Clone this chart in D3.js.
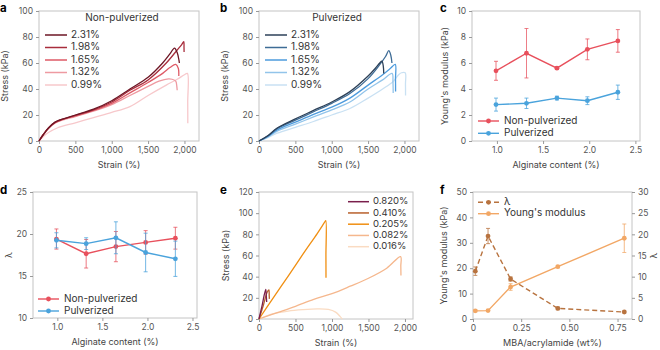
<!DOCTYPE html>
<html>
<head>
<meta charset="utf-8">
<script src="https://cdn.jsdelivr.net/npm/d3@7"></script>
<style>
  body { margin: 0; background: #fff; }
  text { font-family: Inter, "Noto Sans", sans-serif; }
</style>
</head>
<body>
<svg id="fig" width="660" height="350"></svg>
<script>
// ---- data ----
const alginateLabels = ["2.31%", "1.98%", "1.65%", "1.32%", "0.99%"];
const alginateContent = [0.99, 1.32, 1.65, 1.98, 2.31];

// a: non-pulverized stress-strain, [strain %, stress kPa]
const nonPulvCurves = [
  [[0,0],[60,5],[130,10],[220,14.5],[300,16.5],[500,20],[750,24.5],[1000,31],[1250,40],[1500,49],[1700,60],[1800,67],[1863,71.5],[1900,68],[1925,62],[1930,60]],
  [[0,0],[60,5],[130,10],[220,14.3],[300,16.3],[500,19.7],[750,24],[1000,30],[1250,39],[1500,47],[1750,60],[1900,70],[1960,74],[1990,76.5],[1994,72],[1995,68.5]],
  [[0,0],[60,5],[130,9.8],[220,14],[300,16],[500,19.3],[750,23.5],[1000,29],[1250,37],[1500,45],[1700,52],[1800,56.5],[1880,59],[1915,56],[1922,50]],
  [[0,0],[60,4.8],[130,9.5],[220,13.6],[300,15.6],[500,18.8],[750,23],[1000,28],[1250,35],[1500,42],[1650,46],[1780,47.8],[1830,47.5],[1880,46],[1895,42],[1900,39]],
  [[0,0],[60,3.5],[130,6.5],[250,10],[500,14],[750,18],[1000,22],[1250,26.5],[1500,35],[1750,43],[1900,47.5],[2000,51],[2040,52],[2045,30],[2046,13.6]]
];

// b: pulverized stress-strain
const pulvCurves = [
  [[0,0],[120,4],[250,10],[500,17],[750,23.5],[1000,30],[1250,38],[1500,50],[1600,56],[1660,60],[1690,61.5],[1708,58],[1715,52]],
  [[0,0],[120,3.8],[250,9.5],[500,16],[750,22.5],[1000,29],[1250,36.5],[1500,48],[1650,58],[1740,65],[1785,69.5],[1812,66],[1828,60]],
  [[0,0],[120,3.5],[250,8.5],[500,14.5],[750,20.5],[1000,26],[1250,33],[1500,43],[1700,51],[1800,55.5],[1873,59],[1877,48],[1878,38]],
  [[0,0],[120,3],[250,7.5],[500,13],[750,18.5],[1000,24],[1250,30],[1500,40],[1700,47],[1830,52],[1842,45],[1845,37]],
  [[0,0],[120,2.5],[250,6],[500,10.5],[750,15],[1000,20],[1250,25],[1500,33],[1700,40],[1850,46],[1920,51],[1960,52.5],[2010,52.5],[2014,44],[2015,35]]
];

// c: Young's modulus (kPa) vs alginate content
const cNonPulv = [5.4, 6.75, 5.6, 7.05, 7.7];
const cNonPulvErr = [0.73, 1.9, 0.1, 0.8, 0.87];
const cPulv = [2.8, 2.9, 3.3, 3.1, 3.75];
const cPulvErr = [0.5, 0.4, 0.15, 0.3, 0.55];

// d: lambda vs alginate content
const dNonPulv = [19.4, 17.65, 18.5, 19.0, 19.5];
const dNonPulvErr = [1.2, 1.7, 1.8, 1.4, 1.3];
const dPulv = [19.25, 18.85, 19.55, 17.8, 17.05];
const dPulvErr = [0.9, 0.7, 1.9, 2.3, 2.1];

// e: stress-strain for MBA content
const mbaLabels = ["0.820%", "0.410%", "0.205%", "0.082%", "0.016%"];
const mbaCurves = [
  [[0,0],[40,12],[92,28],[100,22],[105,16]],
  [[0,0],[60,13],[110,25],[135,27.5],[140,22],[142,19]],
  [[0,0],[200,20.5],[400,40.5],[600,61],[800,81],[900,91.5],[915,93],[917,60],[918,39]],
  [[0,0],[250,6],[500,12],[750,18.5],[1000,24],[1250,31],[1500,38.5],[1750,48],[1940,59],[1943,50],[1945,41]],
  [[0,0],[200,5],[400,7.5],[600,8.8],[800,9.5],[950,9],[1050,6.5],[1110,2.5],[1140,0]]
];

// f: lambda and Young's modulus vs MBA/acrylamide
const fMba = [0.012, 0.078, 0.195, 0.44, 0.785];
const fLambda = [11.3, 19.6, 9.45, 2.5, 1.65];
const fLambdaErr = [1.0, 1.8, 0.5, 0.3, 0.2];
const fModulus = [3.2, 3.3, 12.6, 20.6, 31.8];
const fModulusErr = [0.4, 0.3, 1.3, 0.4, 5.6];

const redShades = ["#6d1625", "#a82d3c", "#de5a66", "#ee9aa1", "#f7c8cb"];
const blueShades = ["#2c4058", "#3e6c96", "#4d9bdd", "#92c4ea", "#c9e1f3"];
const orangeShades = ["#7a1f4c", "#b8602c", "#f08f12", "#f5b78d", "#fadbc2"];
const red = "#e8505c", blue = "#4aa3dc";
const brown = "#b8733f", lightOrange = "#f2a765";

const svg = d3.select("#fig");

function makePanel(box, xDom, yDom, xTicks, yTicks, xFmt, yFmt) {
  const x = d3.scaleLinear().domain(xDom).range([box.x0, box.x1]);
  const y = d3.scaleLinear().domain(yDom).range([box.y1, box.y0]);
  const g = svg.append("g");
  g.append("rect")
    .attr("x", box.x0).attr("y", box.y0)
    .attr("width", box.x1 - box.x0).attr("height", box.y1 - box.y0)
    .attr("fill", "none").attr("stroke", "#c4c4c4").attr("stroke-width", 1);
  const xa = g.append("g").attr("transform", `translate(0,${box.y1})`)
    .call(d3.axisBottom(x).tickValues(xTicks).tickFormat(xFmt).tickSize(3).tickPadding(3));
  const ya = g.append("g").attr("transform", `translate(${box.x0},0)`)
    .call(d3.axisLeft(y).tickValues(yTicks).tickFormat(yFmt).tickSize(3).tickPadding(3));
  [xa, ya].forEach(a => {
    a.select(".domain").remove();
    a.selectAll("line").attr("stroke", "#999");
    a.selectAll("text").attr("fill", "#555").style("font-size", "8.5px");
  });
  return { g, x, y };
}

function xTitle(box, label) {
  svg.append("text").attr("x", (box.x0 + box.x1) / 2).attr("y", box.y1 + 27)
    .attr("text-anchor", "middle").attr("fill", "#444").style("font-size", "9px").text(label);
}
function yTitle(cx, cy, label, rot = -90) {
  svg.append("text").attr("transform", `translate(${cx},${cy}) rotate(${rot})`)
    .attr("text-anchor", "middle").attr("dominant-baseline", "middle")
    .attr("fill", "#444").style("font-size", "9px").text(label);
}
function letter(x, y, s) {
  svg.append("text").attr("x", x).attr("y", y).attr("font-weight", "bold")
    .attr("fill", "#000").style("font-size", "11.5px").text(s);
}

const curveLine = (p) => d3.line().x(d => p.x(d[0])).y(d => p.y(d[1])).curve(d3.curveCatmullRom.alpha(0.5));
const fmtComma = d3.format(",");
const strainTicks = [0, 500, 1000, 1500, 2000];

// ---- a ----
const boxA = { x0: 39, x1: 199, y0: 11, y1: 141 };
const pa = makePanel(boxA, [0, 2200], [0, 100], strainTicks, d3.range(0, 101, 20), fmtComma, d3.format("d"));
nonPulvCurves.slice().reverse().forEach((c, i) => {
  const k = nonPulvCurves.length - 1 - i;
  pa.g.append("path").datum(c).attr("d", curveLine(pa)).attr("fill", "none")
    .attr("stroke", redShades[k]).attr("stroke-width", 1.3);
});
pa.g.append("text").attr("x", 122).attr("y", 18).attr("text-anchor", "middle")
  .attr("dominant-baseline", "middle").attr("fill", "#333").style("font-size", "10px").text("Non-pulverized");
alginateLabels.forEach((l, i) => {
  const yy = boxA.y0 + 24 + i * 12.5;
  pa.g.append("line").attr("x1", boxA.x0 + 6).attr("x2", boxA.x0 + 28).attr("y1", yy).attr("y2", yy)
    .attr("stroke", redShades[i]).attr("stroke-width", 1.5);
  pa.g.append("text").attr("x", boxA.x0 + 32).attr("y", yy).attr("dominant-baseline", "middle")
    .attr("fill", "#333").style("font-size", "10px").text(l);
});
xTitle(boxA, "Strain (%)");
yTitle(6, (boxA.y0 + boxA.y1) / 2, "Stress (kPa)");
letter(0, 12, "a");

// ---- b ----
const boxB = { x0: 259, x1: 419, y0: 11, y1: 141 };
const pb = makePanel(boxB, [0, 2200], [0, 100], strainTicks, d3.range(0, 101, 20), fmtComma, d3.format("d"));
pulvCurves.slice().reverse().forEach((c, i) => {
  const k = pulvCurves.length - 1 - i;
  pb.g.append("path").datum(c).attr("d", curveLine(pb)).attr("fill", "none")
    .attr("stroke", blueShades[k]).attr("stroke-width", 1.3);
});
pb.g.append("text").attr("x", 337).attr("y", 18).attr("text-anchor", "middle")
  .attr("dominant-baseline", "middle").attr("fill", "#333").style("font-size", "10px").text("Pulverized");
alginateLabels.forEach((l, i) => {
  const yy = boxB.y0 + 24 + i * 12.5;
  pb.g.append("line").attr("x1", boxB.x0 + 6).attr("x2", boxB.x0 + 28).attr("y1", yy).attr("y2", yy)
    .attr("stroke", blueShades[i]).attr("stroke-width", 1.5);
  pb.g.append("text").attr("x", boxB.x0 + 32).attr("y", yy).attr("dominant-baseline", "middle")
    .attr("fill", "#333").style("font-size", "10px").text(l);
});
xTitle(boxB, "Strain (%)");
yTitle(226, (boxB.y0 + boxB.y1) / 2, "Stress (kPa)");
letter(220, 12, "b");

// error-bar series helper
function series(p, xs, ys, errs, color, opts = {}) {
  const pts = xs.map((v, i) => ({ x: v, y: ys[i], e: errs[i] }));
  pts.forEach(d => {
    p.g.append("line").attr("x1", p.x(d.x)).attr("x2", p.x(d.x))
      .attr("y1", p.y(d.y - d.e)).attr("y2", p.y(d.y + d.e))
      .attr("stroke", color).attr("stroke-width", 0.9).attr("opacity", 0.85);
    [d.y - d.e, d.y + d.e].forEach(v => p.g.append("line")
      .attr("x1", p.x(d.x) - 2).attr("x2", p.x(d.x) + 2).attr("y1", p.y(v)).attr("y2", p.y(v))
      .attr("stroke", color).attr("stroke-width", 0.9).attr("opacity", 0.85));
  });
  p.g.append("path").datum(pts)
    .attr("d", d3.line().x(d => p.x(d.x)).y(d => (opts.yScale || p.y)(d.y)))
    .attr("fill", "none").attr("stroke", color).attr("stroke-width", 1.4)
    .attr("stroke-dasharray", opts.dash || null);
  p.g.selectAll(null).data(pts).enter().append("circle")
    .attr("cx", d => p.x(d.x)).attr("cy", d => (opts.yScale || p.y)(d.y)).attr("r", 2.4)
    .attr("fill", opts.marker || color);
}
function legendRow(p, x0, yy, color, label, dash, marker) {
  p.g.append("line").attr("x1", x0).attr("x2", x0 + 21).attr("y1", yy).attr("y2", yy)
    .attr("stroke", color).attr("stroke-width", 1.4).attr("stroke-dasharray", dash || null);
  p.g.append("circle").attr("cx", x0 + 10.5).attr("cy", yy).attr("r", 2.4).attr("fill", marker || color);
  p.g.append("text").attr("x", x0 + 26).attr("y", yy).attr("dominant-baseline", "middle")
    .attr("fill", "#333").style("font-size", "10px").text(label);
}

// ---- c ----
const boxC = { x0: 472, x1: 640, y0: 11, y1: 141 };
const pc = makePanel(boxC, [0.73, 2.55], [0, 10], [1, 1.5, 2, 2.5], d3.range(0, 11, 2), d3.format(".1f"), d3.format("d"));
series(pc, alginateContent, cNonPulv, cNonPulvErr, red);
series(pc, alginateContent, cPulv, cPulvErr, blue);
legendRow(pc, boxC.x0 + 6, 121, red, "Non-pulverized");
legendRow(pc, boxC.x0 + 6, 133.3, blue, "Pulverized");
xTitle(boxC, "Alginate content (%)");
yTitle(445.5, (boxC.y0 + boxC.y1) / 2, "Young's modulus (kPa)");
letter(440, 12, "c");

// ---- d ----
const boxD = { x0: 33, x1: 197, y0: 192, y1: 318 };
const pd = makePanel(boxD, [0.73, 2.55], [10, 25], [1, 1.5, 2, 2.5], [10, 15, 20, 25], d3.format(".1f"), d3.format("d"));
series(pd, alginateContent, dNonPulv, dNonPulvErr, red);
series(pd, alginateContent, dPulv, dPulvErr, blue);
legendRow(pd, boxD.x0 + 5, 299, red, "Non-pulverized");
legendRow(pd, boxD.x0 + 5, 311, blue, "Pulverized");
xTitle(boxD, "Alginate content (%)");
yTitle(9.5, (boxD.y0 + boxD.y1) / 2, "λ");
letter(0, 194, "d");

// ---- e ----
const boxE = { x0: 259, x1: 413, y0: 192, y1: 319 };
const pe = makePanel(boxE, [0, 2110], [0, 120], strainTicks, d3.range(0, 121, 20), fmtComma, d3.format("d"));
mbaCurves.slice().reverse().forEach((c, i) => {
  const k = mbaCurves.length - 1 - i;
  pe.g.append("path").datum(c).attr("d", curveLine(pe)).attr("fill", "none")
    .attr("stroke", orangeShades[k]).attr("stroke-width", 1.3);
});
mbaLabels.forEach((l, i) => {
  const yy = 201.7 + i * 11.25;
  pe.g.append("line").attr("x1", 348).attr("x2", 369).attr("y1", yy).attr("y2", yy)
    .attr("stroke", orangeShades[i]).attr("stroke-width", 1.5);
  pe.g.append("text").attr("x", 373).attr("y", yy).attr("dominant-baseline", "middle")
    .attr("fill", "#333").style("font-size", "9.5px").text(l);
});
xTitle(boxE, "Strain (%)");
yTitle(226.5, (boxE.y0 + boxE.y1) / 2, "Stress (kPa)");
letter(220, 194, "e");

// ---- f ----
const boxF = { x0: 473, x1: 632, y0: 192, y1: 319 };
const pf = makePanel(boxF, [0, 0.825], [0, 50], [0, 0.25, 0.5, 0.75], d3.range(0, 51, 10),
  d => d === 0 ? "0" : d3.format(".2f")(d), d3.format("d"));
const yRight = d3.scaleLinear().domain([0, 30]).range([boxF.y1, boxF.y0]);
const ra = pf.g.append("g").attr("transform", `translate(${boxF.x1},0)`)
  .call(d3.axisRight(yRight).tickValues(d3.range(0, 31, 5)).tickSize(3).tickPadding(3));
ra.select(".domain").remove();
ra.selectAll("line").attr("stroke", "#999");
ra.selectAll("text").attr("fill", "#555").style("font-size", "8.5px");
series(pf, fMba, fModulus, fModulusErr, lightOrange);
series({ g: pf.g, x: pf.x, y: yRight }, fMba, fLambda, fLambdaErr, brown, { dash: "5,3" });
legendRow(pf, 478, 202.3, brown, "λ", "5,3");
legendRow(pf, 478, 213.7, lightOrange, "Young's modulus");
xTitle(boxF, "MBA/acrylamide (wt%)");
yTitle(445, (boxF.y0 + boxF.y1) / 2, "Young's modulus (kPa)");
yTitle(655, (boxF.y0 + boxF.y1) / 2, "λ");
letter(440, 194, "f");
</script>
</body>
</html>
